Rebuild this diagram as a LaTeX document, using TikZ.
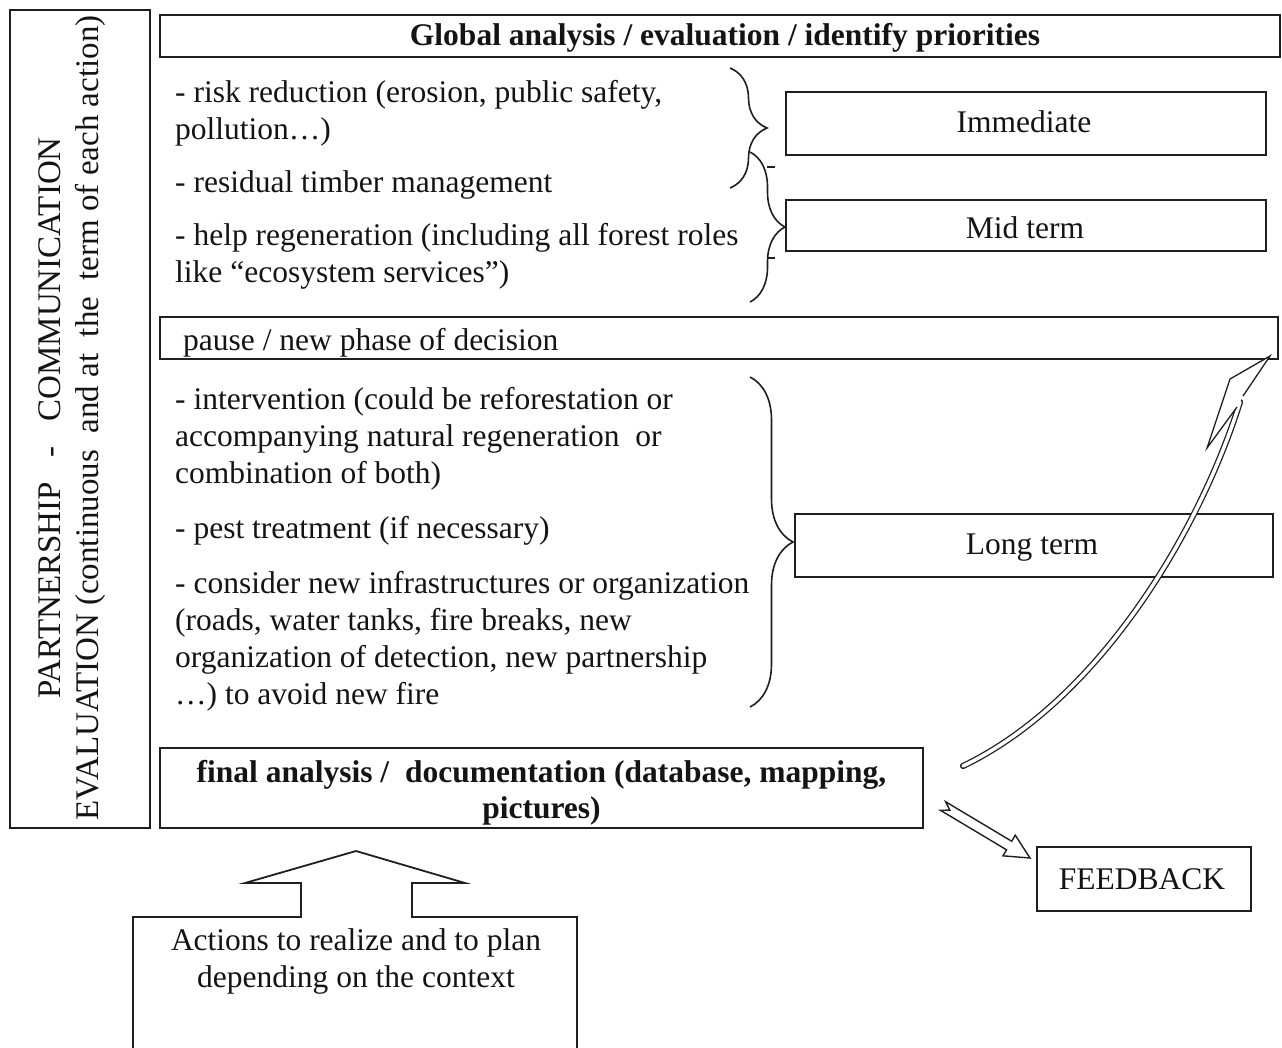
\documentclass[tikz,border=0pt]{standalone}
\usepackage{fontspec}
\setmainfont{Liberation Serif}
\usetikzlibrary{decorations.pathreplacing,calc}
\begin{document}
\begin{tikzpicture}[x=1pt,y=-1pt,
  every node/.style={font=\fontsize{31.5}{37}\selectfont, inner sep=0pt, text=black!92},
  box/.style={draw=black!88, line width=1.8pt},
  txt/.style={anchor=west, align=left},
  bold/.style={font=\bfseries\fontsize{31.5}{36}\selectfont},
  brc/.style={draw=black!88, decorate, decoration={brace, amplitude=#1}, line width=1.6pt},
  harrow/.style={draw=black!88, line width=1.4pt, fill=white, line join=miter},
  ]
\useasboundingbox (0,0) rectangle (1282,1047);

% left vertical box
\node[box, minimum width=140, minimum height=818] (leftbox) at (80,419) {};
\node[rotate=90, align=center, font=\fontsize{33}{38}\selectfont] (lefttxt) at (72,418)
  {PARTNERSHIP \ \ - \ \ COMMUNICATION\\EVALUATION (continuous \ and at \ the \ term of each action)};

% top box
\node[box, minimum width=1120, minimum height=42] (global) at (720,36) {};
\node[bold] (globaltxt) at (725,38) {Global analysis / evaluation / identify priorities};

% bullet texts
\node[txt] (b1) at (175,113.5) {- risk reduction (erosion, public safety,\\pollution…)};
\node[txt] (b2) at (175,185) {- residual timber management};
\node[txt] (b3) at (175,256.5) {- help regeneration (including all forest roles\\like “ecosystem services”)};

% term boxes
\node[box, minimum width=480, minimum height=63] (imm) at (1026,123.5) {};
\node (immtxt) at (1024,122) {Immediate};
\node[box, minimum width=480, minimum height=51] (mid) at (1026,225.5) {};
\node (midtxt) at (1025,228) {Mid term};

% braces
\draw[brc=37] (730,68) -- (730,188);
\draw[brc=35] (750,152) -- (750,302);
\draw[draw=black!88, line width=1.4pt] (767,167) -- (775,167);
\draw[draw=black!88, line width=1.4pt] (767,258) -- (775,258);

% pause box
\node[box, minimum width=1118, minimum height=42] (pause) at (719,338) {};
\node[txt] (pausetxt) at (183,343) {pause / new phase of decision};

% second group
\node[txt] (b4) at (175,438.5) {- intervention (could be reforestation or\\accompanying natural regeneration \ or\\combination of both)};
\node[txt] (b5) at (175,531) {- pest treatment (if necessary)};
\node[txt] (b6) at (175,641) {- consider new infrastructures or organization\\(roads, water tanks, fire breaks, new\\organization of detection, new partnership\\…) to avoid new fire};

\draw[brc=43] (750,377) -- (750,707);
\node[box, minimum width=478, minimum height=63] (long) at (1034,545.5) {};
\node (longtxt) at (1032,548) {Long term};

% final analysis box
\node[box, minimum width=763, minimum height=80] (final) at (541.5,788) {};
\node[bold, align=center] (finaltxt) at (541.5,793)
  {final analysis / \ documentation (database, mapping,\\pictures)};

% feedback box
\node[box, minimum width=214, minimum height=64] (feedback) at (1144,879) {};
\node (feedbacktxt) at (1142,879) {FEEDBACK};

% hollow arrow to feedback
\coordinate (ft) at (943,806);
\coordinate (fh) at (1030,858);
\coordinate (fb) at ($(ft)!0.76!(fh)$);
\draw[harrow] ($(ft)!5pt!90:(fh)$) -- ($(fb)!5pt!90:(fh)$) -- ($(fb)!12pt!90:(fh)$) -- (fh)
  -- ($(fb)!12pt!-90:(fh)$) -- ($(fb)!5pt!-90:(fh)$) -- ($(ft)!5pt!-90:(fh)$) -- ($(ft)!8pt!(fh)$) -- cycle;

% curved hollow arrow to pause box
\coordinate (ct) at (963,766);
\coordinate (ch) at (1240,402);
\draw[draw=black!88, line width=1.3pt, double=white, double distance=3.5pt, line cap=round]
  (ct) .. controls (1100,700) and (1200,530) .. (ch);
\coordinate (hC) at (1237,407);
\coordinate (hB) at (1207,448);
\coordinate (hA) at (1230,379);
\coordinate (hT) at (1270,356);
\coordinate (hD) at (1243,396);
\fill[white] (hC) -- (hB) -- (hA) -- (hT) -- (hD) -- cycle;
\draw[draw=black!88, line width=1.3pt, line join=miter] (hC) -- (hB) -- (hA) -- (hT) -- (hD);

% bottom actions box with up arrow
\draw[box, line join=miter] (133,1050) -- (133,917) -- (301,917) -- (301,883) -- (245,883) -- (356,851)
  -- (465,883) -- (412,883) -- (412,917) -- (577,917) -- (577,1050);
\node[align=center] (actions) at (356,961.5) {Actions to realize and to plan\\depending on the context};
\end{tikzpicture}
\end{document}
